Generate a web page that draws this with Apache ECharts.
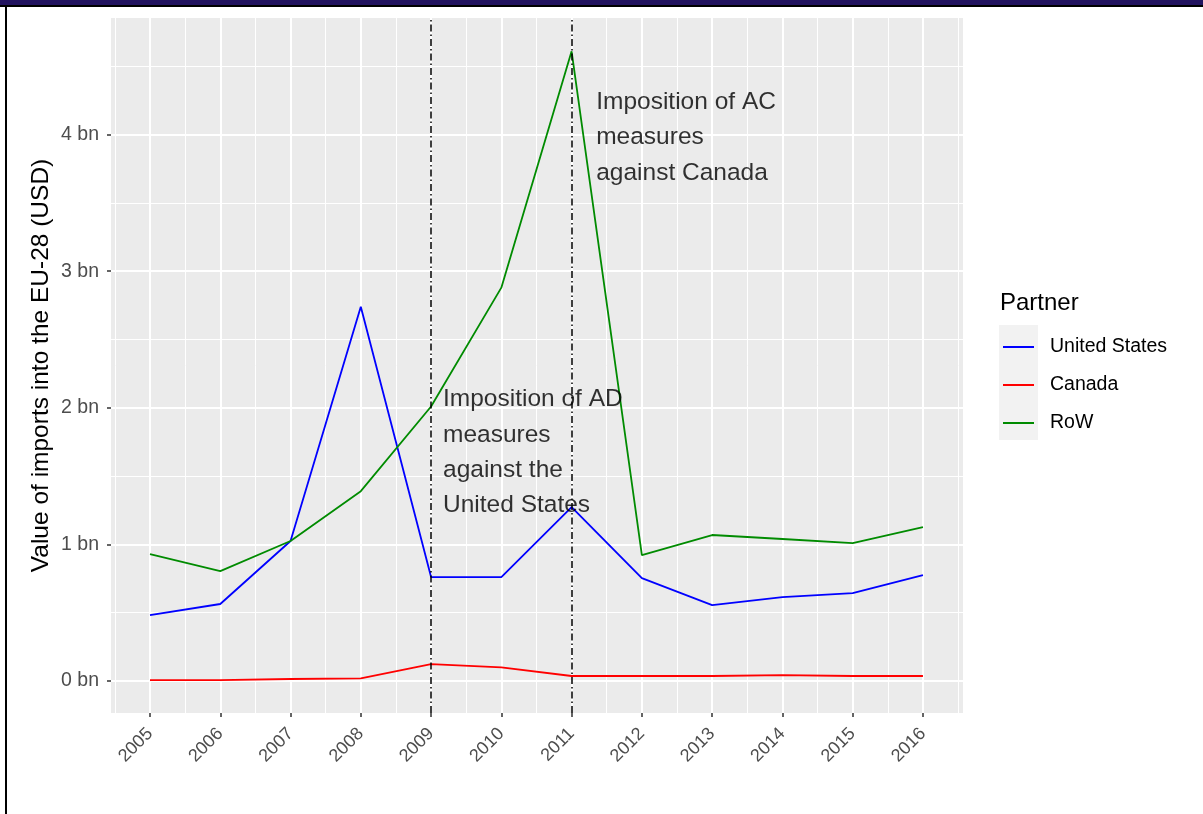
<!DOCTYPE html>
<html><head><meta charset="utf-8">
<script src="https://cdn.jsdelivr.net/npm/echarts@6/dist/echarts.min.js"></script>
<style>html,body{margin:0;padding:0;background:#fff}#c{width:1203px;height:814px}</style>
</head><body><div id="c"></div>
<script>
const years = [2005, 2006, 2007, 2008, 2009, 2010, 2011, 2012, 2013, 2014, 2015, 2016];
const unitedStates = [0.483, 0.564, 1.025, 2.74, 0.761, 0.761, 1.274, 0.754, 0.556, 0.615, 0.644, 0.776];
const canada = [0.007, 0.007, 0.015, 0.02, 0.124, 0.10, 0.037, 0.037, 0.037, 0.044, 0.037, 0.037];
const restOfWorld = [0.93, 0.805, 1.025, 1.39, 2.01, 2.88, 4.61, 0.922, 1.069, 1.04, 1.01, 1.127];
const seriesNames = ['United States', 'Canada', 'RoW'];
const yTicks = [0, 1, 2, 3, 4];
const yMinor = [0.5, 1.5, 2.5, 3.5, 4.5];
const xMinor = [2004.5, 2005.5, 2006.5, 2007.5, 2008.5, 2009.5, 2010.5, 2011.5, 2012.5, 2013.5, 2014.5, 2015.5, 2016.5];
const measureYears = [2009, 2011];
const annotations = [
  {x: 2009.17, y: 2.19, text: 'Imposition of AD\nmeasures\nagainst the\nUnited States'},
  {x: 2011.35, y: 4.366, text: 'Imposition of AC\nmeasures\nagainst Canada'}
];
const xMin = 2004.445, xMax = 2016.57, yMin = -0.234, yMax = 4.854;

const FONT = '"Liberation Sans", Arial, sans-serif';
const colors = ['#0000FF', '#FF0000', '#008B00'];
const values = [unitedStates, canada, restOfWorld];

const chart = echarts.init(document.getElementById('c'), null, {renderer: 'canvas'});

const lineSeries = seriesNames.map((name, k) => ({
  name, type: 'line', xAxisIndex: 0, yAxisIndex: 0,
  data: years.map((yr, i) => [yr, values[k][i]]),
  showSymbol: false, symbol: 'none',
  lineStyle: {color: colors[k], width: 1.8},
  itemStyle: {color: colors[k]},
  z: 3
}));

lineSeries[0].markLine = {
  silent: true, symbol: ['none', 'none'], label: {show: false},
  lineStyle: {color: '#000', width: 1.5, type: [7, 3, 1.5, 3]},
  data: measureYears.map(x => ({xAxis: x})),
  z: 5
};

const option = {
  animation: false,
  textStyle: {fontFamily: FONT},
  title: {
    text: 'Partner', left: 1000, top: 291, padding: 0,
    textStyle: {fontSize: 24, fontWeight: 'normal', color: '#000', fontFamily: FONT}
  },
  legend: {
    data: seriesNames.map(n => ({name: n, icon: 'rect'})),
    orient: 'vertical', left: 1003, top: 337, padding: 0,
    itemWidth: 31, itemHeight: 2, itemGap: 18,
    textStyle: {fontSize: 19.5, color: '#000', lineHeight: 20, padding: [0, 0, 0, 11], fontFamily: FONT}
  },
  grid: {
    left: 111, right: 240, top: 18, bottom: 101,
    show: true, backgroundColor: '#EBEBEB', borderWidth: 0, borderColor: 'transparent',
    containLabel: false
  },
  xAxis: [
    {
      type: 'value', min: xMin, max: xMax, position: 'bottom',
      axisLine: {show: false, onZero: false},
      axisTick: {show: true, customValues: years, length: 4, lineStyle: {color: '#333', width: 1.5}},
      axisLabel: {customValues: years, rotate: 45, margin: 18, fontSize: 18, color: '#4D4D4D', fontFamily: FONT, formatter: v => String(v)},
      splitLine: {show: true, lineStyle: {color: '#FFFFFF', width: 2}}
    },
    {
      type: 'value', min: xMin, max: xMax, position: 'bottom',
      axisLine: {show: false, onZero: false},
      axisTick: {show: false, customValues: xMinor},
      axisLabel: {show: false, customValues: xMinor},
      splitLine: {show: true, lineStyle: {color: '#FFFFFF', width: 1}}
    }
  ],
  yAxis: [
    {
      type: 'value', min: yMin, max: yMax,
      axisLine: {show: false, onZero: false},
      axisTick: {show: true, customValues: yTicks, length: 4, lineStyle: {color: '#333', width: 1.5}},
      axisLabel: {customValues: yTicks, margin: 12, fontSize: 19.5, color: '#4D4D4D', fontFamily: FONT, formatter: v => v + ' bn'},
      splitLine: {show: true, lineStyle: {color: '#FFFFFF', width: 2}},
      name: 'Value of imports into the EU-28 (USD)', nameLocation: 'middle', nameGap: 57,
      nameMoveOverlap: false,
      nameTextStyle: {fontSize: 24.5, color: '#000', fontFamily: FONT}
    },
    {
      type: 'value', min: yMin, max: yMax, position: 'left',
      axisLine: {show: false, onZero: false},
      axisTick: {show: false, customValues: yMinor},
      axisLabel: {show: false, customValues: yMinor},
      splitLine: {show: true, lineStyle: {color: '#FFFFFF', width: 1}}
    }
  ],
  graphic: [
    {type: 'rect', shape: {x: 0, y: 0, width: 1203, height: 5}, style: {fill: '#22135F'}, z: 100},
    {type: 'rect', shape: {x: 0, y: 5, width: 1203, height: 2}, style: {fill: '#000'}, z: 100},
    {type: 'rect', shape: {x: 5, y: 5, width: 2, height: 809}, style: {fill: '#000'}, z: 100},
    {type: 'rect', shape: {x: 999, y: 325, width: 39, height: 115}, style: {fill: '#F2F2F2'}, z: -1}
  ],
  series: [
    ...lineSeries,
    {
      type: 'scatter', name: 'annotations', xAxisIndex: 0, yAxisIndex: 0,
      symbolSize: 0, silent: true, z: 6,
      data: annotations.map(a => ({value: [a.x, a.y], label: {formatter: a.text}})),
      label: {show: true, position: [0, 0], align: 'left', verticalAlign: 'top',
              fontSize: 24.5, lineHeight: 35.3, color: '#000', fontFamily: FONT}
    }
  ]
};
chart.setOption(option);
</script>
</body></html>
